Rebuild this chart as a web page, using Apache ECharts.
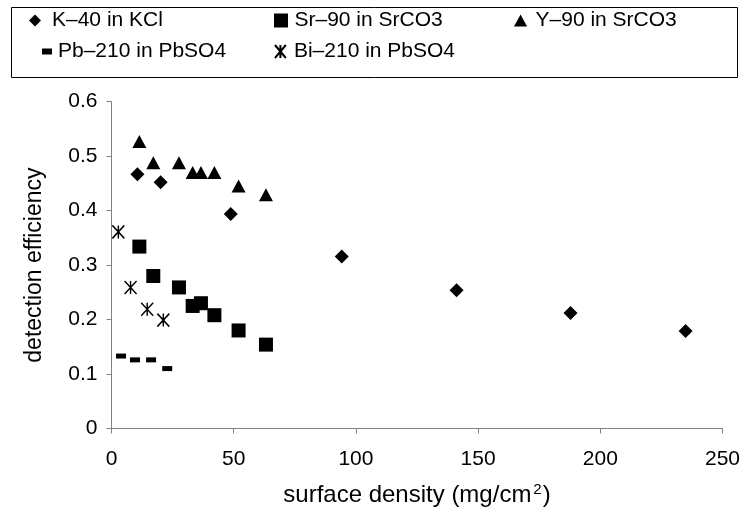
<!DOCTYPE html>
<html><head><meta charset="utf-8">
<script src="https://cdn.jsdelivr.net/npm/echarts@6/dist/echarts.min.js"></script>
<style>html,body{margin:0;padding:0;background:#fff}#c{width:747px;height:512px}</style>
</head><body><div id="c"></div>
<script>
const seriesNames = ['K–40 in KCl','Sr–90 in SrCO3','Y–90 in SrCO3','Pb–210 in PbSO4','Bi–210 in PbSO4'];
const k40X = [10.6, 20.1, 48.8, 94.2, 141.2, 187.8, 234.9];
const k40Y = [0.467, 0.452, 0.394, 0.316, 0.254, 0.212, 0.179];
const sr90X = [11.4, 17.1, 27.6, 33.2, 36.6, 42.1, 52.0, 63.2];
const sr90Y = [0.334, 0.280, 0.259, 0.225, 0.230, 0.208, 0.180, 0.154];
const y90X = [11.4, 17.1, 27.6, 33.2, 36.6, 42.1, 52.0, 63.2];
const y90Y = [0.527, 0.488, 0.488, 0.470, 0.470, 0.470, 0.445, 0.429];
const pb210X = [3.9, 9.6, 16.2, 22.8];
const pb210Y = [0.133, 0.126, 0.126, 0.110];
const bi210X = [2.8, 7.8, 14.6, 21.2];
const bi210Y = [0.361, 0.259, 0.219, 0.199];

const zip = (xs, ys) => xs.map((x, i) => [x, ys[i]]);
const FONT = 'Liberation Sans, Arial, sans-serif';
const starPath = 'path://M0,0 L10,12 M10,0 L0,12 M5,0 L5,12';
const diamondIcon = 'path://M0,6 L6,0 L12,6 L6,12 Z';
const squareIcon = 'path://M0,0 L10,0 L10,10 L0,10 Z';
const triIcon = 'path://M6,0 L12,11 L0,11 Z';
const dashIcon = 'path://M0,0 L10,0 L10,6 L0,6 Z';

const chart = echarts.init(document.getElementById('c'), null, {renderer: 'canvas'});
const lg = (name, icon, left, top, w, h) => ({
  data: [{name: name, icon: icon}], left: left, top: top, padding: 0,
  itemWidth: w, itemHeight: h, itemGap: 0, selectedMode: false, symbolKeepAspect: true,
  textStyle: {fontFamily: FONT, fontSize: 21, color: '#000'}
});
chart.setOption({
  animation: false,
  backgroundColor: '#fff',
  grid: {left: 111.5, right: 24.5, top: 101.7, bottom: 79.3},
  graphic: [{type: 'rect', shape: {x: 11.5, y: 7.5, width: 726, height: 70}, style: {fill: 'none', stroke: '#000', lineWidth: 1}}],
  legend: [
    lg(seriesNames[0], diamondIcon, 29, 10, 24, 12),
    lg(seriesNames[1], squareIcon, 274, 10, 17, 14),
    lg(seriesNames[2], triIcon, 514, 10, 20, 12),
    lg(seriesNames[3], dashIcon, 42, 41, 12, 6),
    lg(seriesNames[4], starPath, 274, 41, 17, 13)
  ],
  xAxis: {
    type: 'value', min: 0, max: 250, interval: 50,
    name: '{a|surface density (mg/cm}{s|2}{a|)}', nameLocation: 'middle', nameGap: 54,
    nameTextStyle: {rich: {a: {fontFamily: FONT, fontSize: 24, color: '#000'}, s: {fontFamily: FONT, fontSize: 15, color: '#000', verticalAlign: 'top', padding: [0, 1, 10, 2]}}},
    axisLine: {show: true, lineStyle: {color: '#808080', width: 1}},
    axisTick: {show: true, inside: false, length: 5, lineStyle: {color: '#808080'}},
    axisLabel: {fontFamily: FONT, fontSize: 21, color: '#000', margin: 20},
    splitLine: {show: false}
  },
  yAxis: {
    type: 'value', min: 0, max: 0.6, interval: 0.1,
    name: 'detection efficiency', nameLocation: 'middle', nameGap: 65, nameRotate: 90,
    nameTextStyle: {fontFamily: FONT, fontSize: 23, color: '#000'},
    axisLine: {show: true, lineStyle: {color: '#808080', width: 1}},
    axisTick: {show: true, inside: false, length: 5, lineStyle: {color: '#808080'}},
    axisLabel: {fontFamily: FONT, fontSize: 21, color: '#000', margin: 14},
    splitLine: {show: false}
  },
  series: [
    {name: seriesNames[0], type: 'scatter', data: zip(k40X, k40Y), symbol: 'diamond', symbolSize: 14, itemStyle: {color: '#000', opacity: 1}},
    {name: seriesNames[1], type: 'scatter', data: zip(sr90X, sr90Y), symbol: 'rect', symbolSize: 14, itemStyle: {color: '#000', opacity: 1}},
    {name: seriesNames[2], type: 'scatter', data: zip(y90X, y90Y), symbol: 'triangle', symbolSize: [14, 13], itemStyle: {color: '#000', opacity: 1}},
    {name: seriesNames[3], type: 'scatter', data: zip(pb210X, pb210Y), symbol: 'rect', symbolSize: [10, 5], itemStyle: {color: '#000', opacity: 1}},
    {name: seriesNames[4], type: 'scatter', data: zip(bi210X, bi210Y), symbol: starPath, symbolSize: [12, 13], itemStyle: {color: 'rgba(0,0,0,0)', borderColor: '#000', borderWidth: 1.5, opacity: 1}}
  ]
});
</script></body></html>
